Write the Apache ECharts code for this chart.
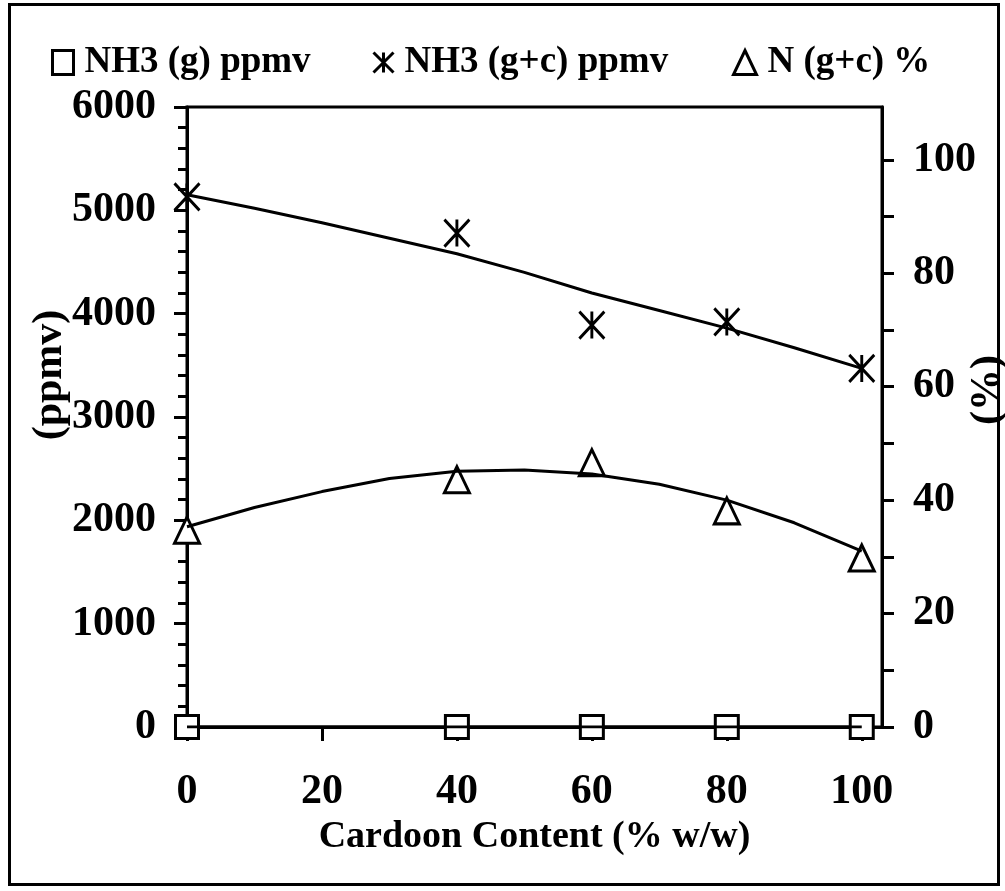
<!DOCTYPE html>
<html>
<head>
<meta charset="utf-8">
<script src="https://cdn.jsdelivr.net/npm/echarts@6/dist/echarts.min.js"></script>
<style>
html,body{margin:0;padding:0;background:#fff;}
#chart{width:1005px;height:891px;}
</style>
</head>
<body>
<div id="chart"></div>
<script>
// ---- data ----
const cardoon = [0, 40, 60, 80, 100];
const nh3Gas = [0, 0, 0, 0, 0];
const nh3GasCond = [5130, 4780, 3890, 3920, 3470];
const nGasCond = [34.7, 43.6, 46.6, 38.1, 29.8];
// trend lines
const trendX = [0, 10, 20, 30, 40, 50, 60, 70, 80, 90, 100];
const nh3GasCondTrend = [5150, 5020, 4880, 4730, 4580, 4400, 4200, 4030, 3860, 3670, 3470];
const nGasCondTrend = [35.3, 38.7, 41.5, 43.8, 45.1, 45.3, 44.6, 42.8, 40.0, 36.0, 31.0];
const nh3GasTrendX = [0, 100];
const nh3GasTrend = [0, 0];
const xTicks = [0, 20, 40, 60, 80, 100];
const rightTicks = [0, 10, 20, 30, 40, 50, 60, 70, 80, 90, 100];
const rightLabels = [0, 20, 40, 60, 80, 100];
const names = ['NH3 (g) ppmv', 'NH3 (g+c) ppmv', 'N (g+c) %'];

const FONT = 'Liberation Serif';
const asteriskPath = 'path://M10 0 L10 20 M0 0 L20 20 M20 0 L0 20';
const pair = (xs, ys) => xs.map((x, i) => [x, ys[i]]);
const markerStyle = {color: '#fff', borderColor: '#000', borderWidth: 3, opacity: 1};
const legendText = {fontFamily: FONT, fontWeight: 'bold', fontSize: 37, color: '#000', padding: [0, 0, 0, 6]};

const chart = echarts.init(document.getElementById('chart'), null, {renderer: 'canvas'});
const option = {
  animation: false,
  backgroundColor: '#fff',
  grid: {left: 187, top: 107, right: 123, bottom: 164, show: true, borderColor: '#000', borderWidth: 3, backgroundColor: 'transparent'},
  legend: [
    {left: 46, top: 39, itemWidth: 21, itemHeight: 24, textStyle: legendText,
     data: [{name: names[0], icon: 'rect', itemStyle: markerStyle}]},
    {left: 367, top: 39, itemWidth: 20, itemHeight: 24, textStyle: legendText,
     data: [{name: names[1], icon: asteriskPath, itemStyle: markerStyle}]},
    {left: 727, top: 39, itemWidth: 23, itemHeight: 24, textStyle: legendText,
     data: [{name: names[2], icon: 'triangle', itemStyle: markerStyle}]}
  ],
  xAxis: {
    type: 'value', min: 0, max: 103,
    name: 'Cardoon Content (% w/w)', nameLocation: 'middle', nameGap: 82,
    nameTextStyle: {fontFamily: FONT, fontWeight: 'bold', fontSize: 38, color: '#000'},
    axisLine: {show: true, onZero: false, lineStyle: {color: '#000', width: 3}},
    axisTick: {show: true, inside: false, length: 14, lineStyle: {color: '#000', width: 3}, customValues: xTicks},
    axisLabel: {fontFamily: FONT, fontWeight: 'bold', fontSize: 42, color: '#000', margin: 44, customValues: xTicks,
                formatter: v => String(v)},
    splitLine: {show: false}
  },
  yAxis: [
    {
      type: 'value', min: 0, max: 6000, interval: 1000, position: 'left',
      axisLine: {show: true, onZero: false, lineStyle: {color: '#000', width: 3}},
      axisTick: {show: true, inside: false, length: 13, lineStyle: {color: '#000', width: 3}},
      minorTick: {show: true, splitNumber: 5, length: 9, lineStyle: {color: '#000', width: 3}},
      axisLabel: {fontFamily: FONT, fontWeight: 'bold', fontSize: 42, color: '#000', margin: 31,
                  formatter: v => String(v)},
      splitLine: {show: false}
    },
    {
      type: 'value', min: 0, max: 109.3, position: 'right',
      axisLine: {show: true, onZero: false, lineStyle: {color: '#000', width: 3}},
      axisTick: {show: true, inside: false, length: 12, lineStyle: {color: '#000', width: 3}, customValues: rightTicks},
      axisLabel: {fontFamily: FONT, fontWeight: 'bold', fontSize: 42, color: '#000', margin: 31, customValues: rightLabels,
                  formatter: v => String(v)},
      splitLine: {show: false}
    }
  ],
  graphic: [
    {type: 'rect', shape: {x: 9.5, y: 4.5, width: 989, height: 880}, style: {fill: 'none', stroke: '#000', lineWidth: 3}, silent: true, z: 10},
    {type: 'text', x: 50, y: 375, rotation: Math.PI / 2,
     style: {text: '(ppmv)', fontFamily: FONT, fontWeight: 'bold', fontSize: 42, fill: '#000', align: 'center', verticalAlign: 'middle'}},
    {type: 'text', x: 988, y: 390, rotation: Math.PI / 2,
     style: {text: '(%)', fontFamily: FONT, fontWeight: 'bold', fontSize: 42, fill: '#000', align: 'center', verticalAlign: 'middle'}}
  ],
  series: [
    {name: names[0], type: 'scatter', yAxisIndex: 0, symbol: 'rect', symbolSize: 23,
     itemStyle: markerStyle, data: pair(cardoon, nh3Gas), z: 4},
    {name: names[1], type: 'scatter', yAxisIndex: 0, symbol: asteriskPath, symbolSize: [25, 27],
     itemStyle: markerStyle, data: pair(cardoon, nh3GasCond), z: 4},
    {name: names[2], type: 'scatter', yAxisIndex: 1, symbol: 'triangle', symbolSize: [25, 26],
     itemStyle: markerStyle, data: pair(cardoon, nGasCond), z: 4},
    {name: 'trend1', type: 'line', yAxisIndex: 0, showSymbol: false, symbol: 'none',
     lineStyle: {color: '#000', width: 3}, data: pair(nh3GasTrendX, nh3GasTrend), z: 5},
    {name: 'trend2', type: 'line', yAxisIndex: 0, showSymbol: false, symbol: 'none',
     lineStyle: {color: '#000', width: 3}, data: pair(trendX, nh3GasCondTrend), z: 5},
    {name: 'trend3', type: 'line', yAxisIndex: 1, showSymbol: false, symbol: 'none',
     lineStyle: {color: '#000', width: 3}, data: pair(trendX, nGasCondTrend), z: 5}
  ]
};
chart.setOption(option);
</script>
</body>
</html>
